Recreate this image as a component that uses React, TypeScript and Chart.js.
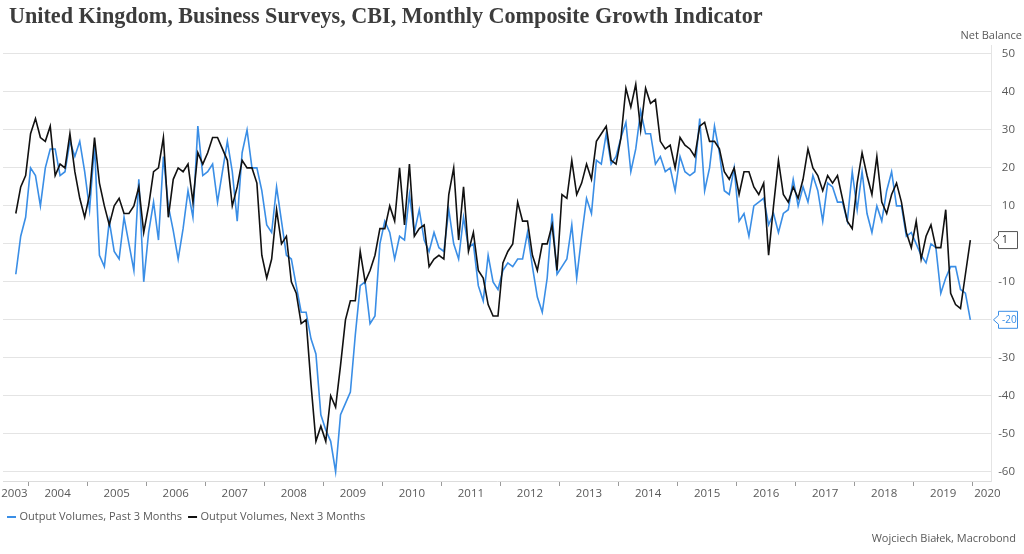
import React, { useEffect, useRef } from 'react';
import { Chart, registerables } from 'chart.js';

Chart.register(...registerables);

const TITLE = 'United Kingdom, Business Surveys, CBI, Monthly Composite Growth Indicator';
const Y_AXIS_TITLE = 'Net Balance';
const CREDIT = 'Wojciech Białek, Macrobond';
const SERIES_NAMES = ['Output Volumes, Past 3 Months', 'Output Volumes, Next 3 Months'];
const SERIES_COLORS = ['#3a8ee6', '#111111'];

// first observation: October 2003, monthly
const START_YEAR = 2003;
const START_MONTH = 10;

// Output Volumes, Past 3 Months (one row per calendar year)
const pastVolumes: number[] = [
  -8, 2, 7,
  20, 18, 10, 20, 25, 25, 18, 19, 27, 23, 27, 19,
  9, 26, -3, -6, 6, -2, -4, 7, 0, -7, 17, -10,
  3, 11, 1, 23, 10, 3.5, -4, 4, 14, 7, 31, 18,
  19, 21, 11, 19, 27, 19, 6, 24, 30, 20, 20, 14,
  5, 3, 15, 6, -3, -4, -11, -18, -18, -25, -29, -45,
  -49, -52, -60, -45, -42, -39, -24, -11, -10, -21, -19, 0,
  6, 3, -4, 2, 1, 13, 3, 9, 1, -2, 3, -1,
  -2, 9, 0, -4, 7, -1, 0, -11, -15, -3, -10, -12,
  -7, -5, -6, -4, -4, 3, -6, -14, -18, -9, 8, -8,
  -6, -4, 5, -9, 2, 12, 8, 22, 21, 29, 21, 23,
  28, 32, 19, 25, 35, 29, 29, 21, 23, 19, 20, 14,
  23, 19, 18, 19, 33, 14, 20, 31, 24, 14, 13, 20,
  6, 8, 2, 10, 11, 12, 5, 8, 3, 8, 9, 17,
  10, 15, 11, 18, 14, 6, 16, 15, 11, 11, 6, 19,
  9, 19, 8, 3, 10, 6, 14, 19, 10, 10, 2, 3,
  0, -3, -5, 0, -1, -13, -9, -6, -6, -12, -13, -20,
];

// Output Volumes, Next 3 Months (one row per calendar year)
const nextVolumes: number[] = [
  8, 15, 18,
  29, 33, 28, 27, 31, 18, 21, 20, 29, 19, 12, 7,
  13, 28, 16, 10, 5, 10, 12, 8, 8, 10, 15, 3,
  10, 19, 20, 28, 7, 17, 20, 19, 21, 11, 24, 21,
  24, 28, 28, 25, 22, 10, 15, 22, 20, 20, 16, -3,
  -9, -4, 9, 0, 2, -10, -13, -21, -20, -37, -52, -48,
  -52, -40, -43, -32, -20, -15, -15, -2, -10, -7, -3, 4,
  4, 10, 6, 20, 5, 21, 2, 4, 5, -6, -4, -3,
  -4, 13, 20, 1, 15, -2, 3, -7, -9, -16, -19, -19,
  -5, -2, 0, 11, 6, 6, -3, -7, 0, 0, 5, -7,
  13, 12, 22, 13, 16, 21, 17, 27, 29, 31, 22, 21,
  28, 41, 36, 42, 30, 41, 37, 38, 27, 25, 26, 20,
  28, 26, 25, 23, 31, 32, 27, 27, 25, 19, 17, 20,
  13, 19, 19, 15, 13, 16, -3, 10, 22, 13, 11, 15,
  12, 17, 25, 20, 18, 14, 18, 16, 18, 12, 6, 4,
  16, 24, 18, 13, 23, 11, 8, 13, 16, 11, 3, -1,
  6, -4, 2, 5, -1, -1, 9, -13, -16, -17, -8, 1,
];

const months: string[] = pastVolumes.map((_, i) => {
  const t = START_MONTH - 1 + i;
  return `${START_YEAR + Math.floor(t / 12)}-${String((t % 12) + 1).padStart(2, '0')}`;
});

const yearLabels = ['2003', '2004', '2005', '2006', '2007', '2008', '2009', '2010', '2011',
  '2012', '2013', '2014', '2015', '2016', '2017', '2018', '2019', '2020'];
const yTickValues = [50, 40, 30, 20, 10, 0, -10, -20, -30, -40, -50, -60];

// x position (in months from first observation, mid-month) of 1 January of a year
const yearStart = (year: number) => (year - START_YEAR) * 12 - (START_MONTH - 1) - 0.5;

const X_MIN = -2.6;
const X_MAX = 198.2;
const Y_MIN = -62.45;
const Y_MAX = 52.37;

const LABEL_FONT = '11.5px "Open Sans"';
const SMALL_FONT = '11px "Open Sans"';
const TEXT_GRAY = '#595959';
const TITLE_WIDTH = 754;

const overlayPlugin = {
  id: 'overlay',
  afterDraw(chart: any) {
    const { ctx, chartArea: ca } = chart;
    const xs = chart.scales.x;
    const ys = chart.scales.y;
    ctx.save();

    // title (font size fitted to the title width)
    ctx.font = 'bold 20px "Liberation Serif"';
    const tw = ctx.measureText(TITLE).width;
    const fs = Math.max(14, Math.min(24, (20 * TITLE_WIDTH) / tw));
    ctx.font = `bold ${fs.toFixed(2)}px "Liberation Serif"`;
    ctx.fillStyle = '#3c3c3c';
    ctx.textBaseline = 'middle';
    ctx.textAlign = 'left';
    ctx.fillText(TITLE, 9, 17);

    // axis title
    ctx.font = SMALL_FONT;
    ctx.fillStyle = TEXT_GRAY;
    ctx.textAlign = 'right';
    ctx.fillText(Y_AXIS_TITLE, 1022, 36);

    // last-value boxes positions
    const series = [pastVolumes, nextVolumes];
    const boxes = series.map((s, i) => ({
      value: s[s.length - 1],
      y: ys.getPixelForValue(s[s.length - 1]),
      color: i === 0 ? SERIES_COLORS[0] : '#555555',
      textColor: i === 0 ? SERIES_COLORS[0] : '#111111',
    }));

    // y labels
    ctx.font = LABEL_FONT;
    ctx.fillStyle = TEXT_GRAY;
    ctx.textAlign = 'right';
    for (const v of yTickValues) {
      const py = ys.getPixelForValue(v);
      if (boxes.some((b) => Math.abs(b.y - py) < 11)) continue;
      ctx.fillText(String(v), 1015, py);
    }

    // x labels: centered within each visible year
    ctx.font = LABEL_FONT;
    ctx.fillStyle = TEXT_GRAY;
    const labelY = 494;
    yearLabels.forEach((lab, k) => {
      const year = Number(lab);
      const a = Math.max(ca.left, xs.getPixelForValue(yearStart(year)));
      const b = Math.min(ca.right, xs.getPixelForValue(yearStart(year + 1)));
      const w = ctx.measureText(lab).width;
      if (b - a >= w + 2) {
        ctx.textAlign = 'center';
        ctx.fillText(lab, (a + b) / 2, labelY);
      } else if (k === 0) {
        ctx.textAlign = 'right';
        ctx.fillText(lab, b - 0.5, labelY);
      } else {
        ctx.textAlign = 'left';
        ctx.fillText(lab, a + 1.5, labelY);
      }
    });

    // value boxes
    ctx.font = '10px "Open Sans"';
    for (const b of boxes) {
      const top = b.y - 8.5;
      const bot = b.y + 8.5;
      ctx.beginPath();
      ctx.moveTo(998.5, top);
      ctx.lineTo(1017.5, top);
      ctx.lineTo(1017.5, bot);
      ctx.lineTo(998.5, bot);
      ctx.lineTo(998.5, b.y + 4.5);
      ctx.lineTo(993.5, b.y);
      ctx.lineTo(998.5, b.y - 4.5);
      ctx.closePath();
      ctx.fillStyle = '#ffffff';
      ctx.fill();
      ctx.strokeStyle = b.color;
      ctx.lineWidth = 1;
      ctx.stroke();
      ctx.fillStyle = b.textColor;
      ctx.textAlign = 'left';
      ctx.fillText(String(b.value), 1002, b.y + 0.5);
    }

    // legend
    ctx.font = SMALL_FONT;
    ctx.textAlign = 'left';
    let lx = 7;
    SERIES_NAMES.forEach((name, i) => {
      ctx.fillStyle = SERIES_COLORS[i];
      ctx.fillRect(lx, 516, 9, 2);
      ctx.fillStyle = TEXT_GRAY;
      ctx.fillText(name, lx + 12.5, 517);
      lx += 12.5 + ctx.measureText(name).width + 6;
    });

    // credit
    ctx.textAlign = 'right';
    ctx.fillStyle = TEXT_GRAY;
    ctx.fillText(CREDIT, 1016, 539);

    ctx.restore();
  },
};

export default function App() {
  const canvasRef = useRef<HTMLCanvasElement | null>(null);

  useEffect(() => {
    if (!canvasRef.current) return;
    const chart = new Chart(canvasRef.current, {
      type: 'line',
      data: {
        labels: months,
        datasets: [
          {
            label: SERIES_NAMES[0],
            data: pastVolumes.map((v, i) => ({ x: i, y: v })),
            borderColor: SERIES_COLORS[0],
            backgroundColor: SERIES_COLORS[0],
            borderWidth: 1.6,
            pointRadius: 0,
            tension: 0,
            order: 1,
          },
          {
            label: SERIES_NAMES[1],
            data: nextVolumes.map((v, i) => ({ x: i, y: v })),
            borderColor: SERIES_COLORS[1],
            backgroundColor: SERIES_COLORS[1],
            borderWidth: 1.6,
            pointRadius: 0,
            tension: 0,
            order: 0,
          },
        ],
      },
      options: {
        responsive: false,
        animation: false,
        events: [],
        layout: { padding: { left: 3, top: 45, right: 0, bottom: 63 } },
        plugins: {
          legend: { display: false },
          title: { display: false },
          tooltip: { enabled: false },
        },
        scales: {
          x: {
            type: 'linear',
            min: X_MIN,
            max: X_MAX,
            afterBuildTicks: (scale: any) => {
              scale.ticks = yearLabels.slice(1).map((l) => ({ value: yearStart(Number(l)) }));
            },
            afterFit: (scale: any) => {
              scale.height = 10;
            },
            ticks: { display: false },
            grid: {
              display: true,
              drawOnChartArea: false,
              drawTicks: true,
              tickLength: 5,
              tickColor: '#9a9a9a',
              color: '#9a9a9a',
            },
            border: { display: true, color: '#dcdcdc' },
          },
          y: {
            type: 'linear',
            position: 'right',
            min: Y_MIN,
            max: Y_MAX,
            afterBuildTicks: (scale: any) => {
              scale.ticks = yTickValues.map((v) => ({ value: v }));
            },
            afterFit: (scale: any) => {
              scale.width = 33;
            },
            ticks: { display: false },
            grid: { color: '#e4e4e4', drawTicks: false },
            border: { display: true, color: '#e4e4e4' },
          },
        },
      },
      plugins: [overlayPlugin],
    });
    return () => chart.destroy();
  }, []);

  return (
    <div style={{ position: 'absolute', left: 0, top: 0, width: 1024, height: 554, background: '#fff' }}>
      <canvas ref={canvasRef} width={1024} height={554} style={{ display: 'block' }} />
    </div>
  );
}
